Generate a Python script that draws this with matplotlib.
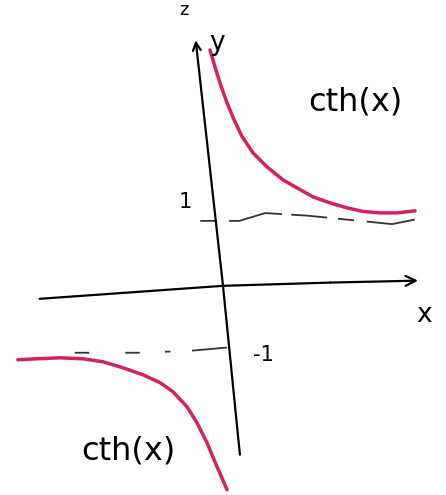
import numpy as np
import matplotlib.pyplot as plt

# hand-sketched cth(x): branch points (x, y in axis units)
upper_x = [-0.200, -0.123, -0.046, 0.062, 0.160, 0.292, 0.462, 0.677, 0.923,
           1.138, 1.385, 1.646, 1.908, 2.154, 2.415, 2.677, 2.954]
upper_y = [3.631, 3.369, 3.123, 2.815, 2.580, 2.300, 2.046, 1.831, 1.631,
           1.508, 1.369, 1.277, 1.200, 1.145, 1.123, 1.123, 1.154]
lower_x = [-3.154, -2.862, -2.508, -2.154, -1.846, -1.538, -1.231, -0.969,
           -0.769, -0.554, -0.400, -0.246, -0.092, 0.062]
lower_y = [-1.138, -1.123, -1.108, -1.123, -1.169, -1.262, -1.369, -1.490,
           -1.631, -1.862, -2.108, -2.415, -2.785, -3.138]

# axes as drawn (slightly tilted); the last point of each is the arrow tip
xaxis_x = [-2.82, 0.0, 1.65, 3.0]
xaxis_y = [-0.20, 0.0, 0.05, 0.08]
yaxis_x = [0.26, 0.0, -0.42]
yaxis_y = [-2.60, 0.0, 3.78]

# asymptote guides at y = 1 and y = -1
asym_hi_x = [-0.35, 0.25, 0.65, 1.30, 2.60, 2.95]
asym_hi_y = [1.00, 1.00, 1.12, 1.08, 0.95, 1.02]
asym_lo_x = [-2.28, -1.30, -0.50, 0.06]
asym_lo_y = [-1.03, -1.03, -1.00, -0.95]

pink = '#d7205c'

fig = plt.figure(figsize=(4.46, 4.95), dpi=100)
ax = fig.add_axes([0, 0, 1, 1])
ax.set_xlim(-3.43, 3.43)
ax.set_ylim(-3.22, 4.40)
ax.axis('off')

# axis shafts up to the last bend, then an arrow for the final stretch
ax.plot(xaxis_x[:-1], xaxis_y[:-1], color='black', lw=1.6, solid_capstyle='round')
ax.plot(yaxis_x[:-1], yaxis_y[:-1], color='black', lw=1.6, solid_capstyle='round')
ax.annotate('', xy=(xaxis_x[-1], xaxis_y[-1]), xytext=(xaxis_x[-2], xaxis_y[-2]),
            arrowprops=dict(arrowstyle='->', color='black', lw=1.6,
                            mutation_scale=18, shrinkA=0, shrinkB=0))
ax.annotate('', xy=(yaxis_x[-1], yaxis_y[-1]), xytext=(yaxis_x[-2], yaxis_y[-2]),
            arrowprops=dict(arrowstyle='->', color='black', lw=1.6,
                            mutation_scale=14, shrinkA=0, shrinkB=0))

ax.plot(asym_hi_x, asym_hi_y, color='#333333', lw=1.3, linestyle=(0, (9, 7, 30, 5, 20, 6)))
ax.plot(asym_lo_x, asym_lo_y, color='#333333', lw=1.3, linestyle=(0, (8, 20, 8, 14, 3, 12, 30, 2)))

for bx, by in ((upper_x, upper_y), (lower_x, lower_y)):
    ax.plot(bx, by, color=pink, lw=2.5, solid_capstyle='round', solid_joinstyle='round')

txt = dict(color='black', ha='center', va='center')
ax.text(2.03, 2.83, 'cth(x)', fontsize=23, **txt)
ax.text(-1.46, -2.54, 'cth(x)', fontsize=23, **txt)
ax.text(-0.58, 1.29, '1', fontsize=15, **txt)
ax.text(0.62, -1.06, '-1', fontsize=15, **txt)
ax.text(-0.10, 3.74, 'y', fontsize=19, **txt)
ax.text(3.10, -0.45, 'x', fontsize=19, **txt)
ax.text(-0.60, 4.25, 'z', fontsize=13, **txt)

fig.savefig('out.png', dpi=100, facecolor='white')
